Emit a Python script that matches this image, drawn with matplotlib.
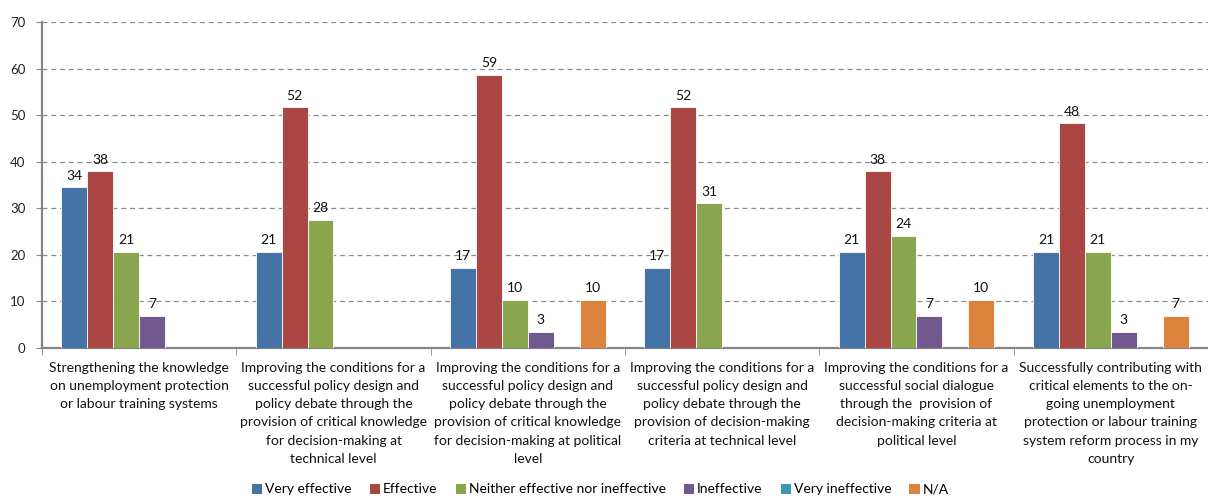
import matplotlib
matplotlib.use("Agg")
import matplotlib.pyplot as plt
import numpy as np
from matplotlib.patches import Patch

plt.rcParams['font.family'] = ['Lato', 'DejaVu Sans']

categories = [
    "Strengthening the knowledge\non unemployment protection\nor labour training systems",
    "Improving the conditions for a\nsuccessful policy design and\npolicy debate through the\nprovision of critical knowledge\nfor decision-making at\ntechnical level",
    "Improving the conditions for a\nsuccessful policy design and\npolicy debate through the\nprovision of critical knowledge\nfor decision-making at political\nlevel",
    "Improving the conditions for a\nsuccessful policy design and\npolicy debate through the\nprovision of decision-making\ncriteria at technical level",
    "Improving the conditions for a\nsuccessful social dialogue\nthrough the  provision of\ndecision-making criteria at\npolitical level",
    "Successfully contributing with\ncritical elements to the on-\ngoing unemployment\nprotection or labour training\nsystem reform process in my\ncountry",
]
series_names = ["Very effective", "Effective", "Neither effective nor ineffective",
                "Ineffective", "Very ineffective", "N/A"]
very_effective = [34.48, 20.69, 17.24, 17.24, 20.69, 20.69]
effective = [37.93, 51.72, 58.62, 51.72, 37.93, 48.28]
neither = [20.69, 27.59, 10.34, 31.03, 24.14, 20.69]
ineffective = [6.90, 0, 3.45, 0, 6.90, 3.45]
very_ineffective = [0, 0, 0, 0, 0, 0]
not_applicable = [0, 0, 10.34, 0, 10.34, 6.90]
colors = ["#4572A7", "#AA4643", "#89A54E", "#71588F", "#4198AF", "#DB843D"]

all_series = [very_effective, effective, neither, ineffective, very_ineffective, not_applicable]

fig = plt.figure(figsize=(12.08, 4.98), dpi=100)
ax = fig.add_axes([42/1208, 1-348/498, 1-42/1208, (348-22)/498])

n = len(categories)
x = np.arange(n)
bw = 1/7.5
for i, (vals, c, name) in enumerate(zip(all_series, colors, series_names)):
    pos = x + (i - 2.5) * bw
    vals = np.array(vals, dtype=float)
    mask = vals > 0
    ax.bar(pos[mask], vals[mask], width=bw, color=c, edgecolor='white', linewidth=0.6, zorder=3)
    for p, v in zip(pos[mask], vals[mask]):
        ax.text(p, v + 1.2, f"{v:.0f}", ha='center', va='bottom', fontsize=10, color='#111111', zorder=4)

ax.set_xlim(-0.5, n - 0.5)
ax.set_ylim(0, 70)
ax.set_yticks(np.arange(0, 71, 10))
ax.tick_params(axis='y', labelsize=9.5, length=4, color='#868686', colors='#222222', pad=8)
ax.yaxis.grid(True, linestyle=(0, (4, 3)), color='#8c8c8c', linewidth=0.9, zorder=0)
ax.set_xticks(x)
ax.set_xticklabels(categories, fontsize=10, linespacing=1.62, color='#111111')
ax.tick_params(axis='x', length=0, pad=10)
ax.set_xticks(np.arange(-0.5, n, 1), minor=True)
ax.tick_params(axis='x', which='minor', length=5, color='#868686')
for s in ['top', 'right']:
    ax.spines[s].set_visible(False)
for s in ['left', 'bottom']:
    ax.spines[s].set_color('#868686')
    ax.spines[s].set_linewidth(1.6)

handles = [Patch(facecolor=c, edgecolor='none') for c in colors]
fig.legend(handles, series_names, loc='lower center', bbox_to_anchor=(0.497, -0.02), ncol=6,
           frameon=False, fontsize=10, handlelength=0.75, handleheight=0.75,
           handletextpad=0.2, columnspacing=1.3)

fig.savefig("out.png", dpi=100)
